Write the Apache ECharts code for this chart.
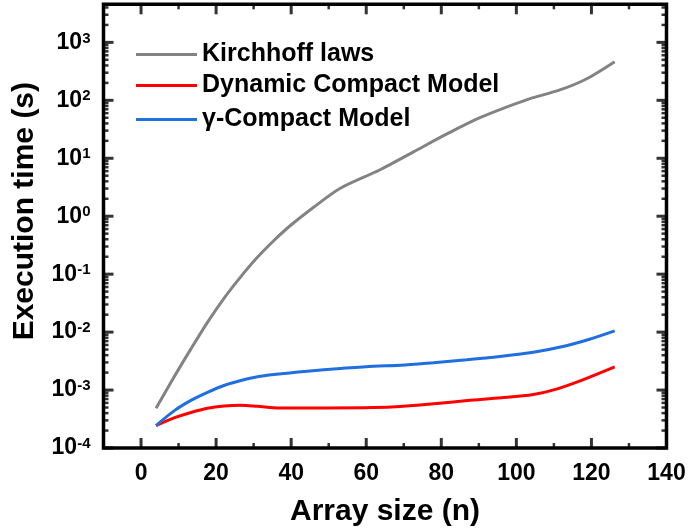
<!DOCTYPE html>
<html>
<head>
<meta charset="utf-8">
<script src="https://cdn.jsdelivr.net/npm/echarts@6/dist/echarts.min.js"></script>
<style>
  html, body { margin: 0; padding: 0; background: #fff; }
  #chart { width: 692px; height: 532px; }
</style>
</head>
<body>
<div id="chart"></div>
<script>
// Execution time versus array size for three solvers (log time axis)
const kirchN = [4, 8.8, 13.3, 17.7, 22.1, 26.6, 31, 35.4, 39.8, 46, 53.1, 63.7, 72.6, 81.5, 90.3, 102.7, 111.6, 118.5, 126.2];
const kirchT = [4.85e-4, 1.68e-3, 5.13e-3, 0.0147, 0.0382, 0.0906, 0.195, 0.381, 0.692, 1.43, 3.04, 6.34, 12.9, 26.3, 50.2, 102, 151, 231, 465];

const dynN = [4, 8.8, 13.3, 17.7, 22.1, 26.6, 31, 37, 49, 62, 69, 78, 87, 96, 104.5, 110.7, 117.7, 126.2];
const dynT = [2.44e-4, 3.3e-4, 4.1e-4, 4.85e-4, 5.3e-4, 5.46e-4, 5.25e-4, 4.92e-4, 4.92e-4, 4.98e-4, 5.2e-4, 5.8e-4, 6.6e-4, 7.35e-4, 8.4e-4, 1.04e-3, 1.5e-3, 2.51e-3];

const gamN = [4, 8.8, 13.3, 17.7, 22.1, 26.6, 31, 35.4, 44.3, 53.1, 62, 69.1, 77.9, 86.8, 95.6, 104.5, 113.3, 119.5, 126.2];
const gamT = [2.44e-4, 4.37e-4, 6.62e-4, 9.14e-4, 1.2e-3, 1.46e-3, 1.7e-3, 1.86e-3, 2.12e-3, 2.35e-3, 2.58e-3, 2.68e-3, 2.97e-3, 3.33e-3, 3.8e-3, 4.5e-3, 5.83e-3, 7.53e-3, 0.0105];

const seriesNames = ['Kirchhoff laws', 'Dynamic Compact Model', '\u03b3-Compact Model'];
const seriesColors = ['#838383', '#ff0000', '#1f6fe0'];

// axis ranges and tick positions
const xMin = -10, xMax = 140;
const yMin = 1e-4, yMax = 4540;
const xMajor = [0, 20, 40, 60, 80, 100, 120, 140];
const xMinor = [10, 30, 50, 70, 90, 110, 130];
const yMajor = [1e-4, 1e-3, 1e-2, 1e-1, 1, 10, 100, 1000];
const minorMultipliers = [2, 3, 4, 5, 6, 7, 8, 9];

const yMinor = [];
yMajor.forEach(d => minorMultipliers.forEach(k => {
  const v = Number((k * d).toPrecision(3));
  if (v < yMax) yMinor.push(v);
}));

const FONT = 'Liberation Sans';
const BLACK = '#000';
const txt = (size) => ({ fontFamily: FONT, fontWeight: 'bold', fontSize: size, color: BLACK });

function pairs(xs, ys) { return xs.map((x, i) => [x, ys[i]]); }

// inward tick marks drawn as thin rectangles anchored on the frame edges
const MAJOR = 10, MINOR = 5;
function ticks(points, size, offset) {
  return {
    type: 'scatter', data: points, symbol: 'rect', symbolSize: size, symbolOffset: offset,
    itemStyle: { color: BLACK }, silent: true, clip: false, z: 5,
    emphasis: { disabled: true }, xAxisIndex: 0, yAxisIndex: 0
  };
}
const tickSeries = [
  ticks(xMajor.map(x => [x, yMin]), [3, MAJOR], [0, -MAJOR / 2]),
  ticks(xMinor.map(x => [x, yMin]), [2.5, MINOR], [0, -MINOR / 2]),
  ticks(xMajor.map(x => [x, yMax]), [3, MAJOR], [0, MAJOR / 2]),
  ticks(xMinor.map(x => [x, yMax]), [2.5, MINOR], [0, MINOR / 2]),
  ticks(yMajor.map(v => [xMin, v]), [MAJOR, 3], [MAJOR / 2, 0]),
  ticks(yMinor.map(v => [xMin, v]), [MINOR, 2.5], [MINOR / 2, 0]),
  ticks(yMajor.map(v => [xMax, v]), [MAJOR, 3], [-MAJOR / 2, 0]),
  ticks(yMinor.map(v => [xMax, v]), [MINOR, 2.5], [-MINOR / 2, 0])
];

function legendFor(name, top) {
  return {
    data: [name], left: 136, top: top, padding: 0,
    icon: 'rect', itemWidth: 61, itemHeight: 3, itemGap: 0,
    textStyle: txt(25), selectedMode: false
  };
}

const chart = echarts.init(document.getElementById('chart'), null, { renderer: 'canvas' });
chart.setOption({
  animation: false,
  backgroundColor: '#fff',
  grid: {
    left: 103.5, right: 25.5, top: 4.3, bottom: 73.3,
    show: true, borderColor: BLACK, borderWidth: 3.5, backgroundColor: 'transparent'
  },
  legend: [legendFor(seriesNames[0], 42), legendFor(seriesNames[1], 73), legendFor(seriesNames[2], 107)],
  xAxis: {
    type: 'value', min: xMin, max: xMax, interval: 10,
    axisLine: { show: false, onZero: false }, axisTick: { show: false }, splitLine: { show: false },
    axisLabel: Object.assign({
      margin: 14,
      formatter: v => (xMajor.indexOf(v) >= 0 ? String(v) : '')
    }, txt(23)),
    name: 'Array size (n)', nameLocation: 'middle', nameGap: 49, nameTextStyle: txt(30)
  },
  yAxis: {
    type: 'log', logBase: 10, min: yMin, max: yMax, interval: 1,
    axisLine: { show: false, onZero: false }, axisTick: { show: false },
    minorTick: { show: false }, splitLine: { show: false },
    axisLabel: {
      margin: 13,
      formatter: v => {
        const e = Math.log10(v);
        if (Math.abs(e - Math.round(e)) > 1e-6) return '';
        return '{b|10}{s|' + Math.round(e) + '}';
      },
      rich: { b: txt(23), s: Object.assign(txt(15), { verticalAlign: 'top' }) }
    },
    name: 'Execution time (s)', nameLocation: 'middle', nameGap: 64,
    nameTextStyle: Object.assign(txt(30), { padding: [0, 0, 0, 30] })
  },
  series: [
    { name: seriesNames[0], data: pairs(kirchN, kirchT) },
    { name: seriesNames[1], data: pairs(dynN, dynT) },
    { name: seriesNames[2], data: pairs(gamN, gamT) }
  ].map((s, i) => Object.assign({
    type: 'line', smooth: 0.3, symbol: 'none',
    color: seriesColors[i], lineStyle: { color: seriesColors[i], width: 3 }
  }, s)).concat(tickSeries)
});
</script>
</body>
</html>
